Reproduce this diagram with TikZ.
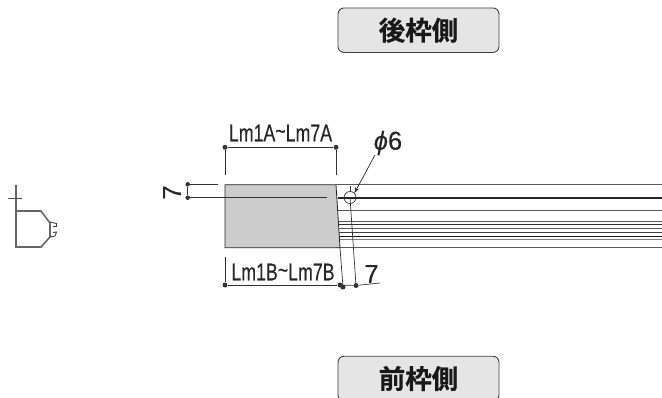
\documentclass[tikz,border=0pt]{standalone}
\usepackage{fontspec}
\setmainfont{Liberation Sans}
\newfontfamily\cjk{Noto Sans CJK JP}[BoldFont={Noto Sans CJK JP Bold},BoldFeatures={FakeBold=0.6}]
\newfontfamily\dimfont{Liberation Sans}[FakeStretch=0.74,FakeBold=0.25]
\newfontfamily\numfont{Liberation Sans}[FakeStretch=0.98,FakeBold=0.25]
\usepackage{tikz}
\usetikzlibrary{arrows.meta}
\tikzset{
  sidelabel/.style={draw=black!75,line width=0.9pt,fill=black!10,rounded corners=6pt,minimum width=161pt,minimum height=44.5pt,font=\cjk\bfseries\fontsize{26.5}{26.5}\selectfont,text=black!90},
  dimtext/.style={font=\dimfont\fontsize{24}{24}\selectfont,inner sep=0pt,text=black!85},
  numtext/.style={font=\numfont\fontsize{26}{26}\selectfont,inner sep=0pt,text=black!85},
  dimline/.style={line width=0.7pt,black!80},
  rail/.style={line width=1pt,black!65},
  dimdot/.style={circle,fill=black!80,inner sep=0pt,minimum size=5pt}
}
\begin{document}
\begin{tikzpicture}[x=1pt,y=-1pt]
  \useasboundingbox (0,0) rectangle (662,397);
  % labels
  \node[sidelabel] (rearlabel) at (418.5,30.2) {後枠側};
  \begin{scope}
    \clip (300,340) rectangle (540,397);
    \node[sidelabel] (frontlabel) at (418.5,378.5) {\raisebox{-1pt}{前枠側}};
  \end{scope}

  % profile
  \draw[line width=1.6pt,black!60] (16,185)--(16,247)--(41,247)--(50,237)--(50,223)--(41,211)--(16,211);
  \draw[line width=0.7pt,black!70] (8,198)--(22,198);
  \draw[line width=0.9pt,black!75] (50,222)--(56.5,223.5)--(56.5,226.5)--(53,226.5) (50,237)--(55,236)--(56.5,232)--(53,232.5);

  % rails
  \draw[rail] (336,184.7)--(662,184.7);
  \draw[line width=2.3pt,black!85] (338,198)--(662,198);
  \draw[rail] (336,210.7)--(662,210.7);
  \draw[rail] (336,221)--(662,221);
  \draw[line width=0.8pt,black!80] (336,224)--(662,224);
  \draw[rail] (336,228)--(662,228);
  \draw[line width=0.8pt,black!75] (336,232)--(662,232);
  \draw[line width=1pt,black!90] (336,236.7)--(662,236.7);
  \draw[line width=0.6pt,black!50] (336,239)--(662,239);
  \draw[rail] (336,247.7)--(662,247.7);

  % grey part
  \draw[line width=0.8pt,black!85,fill=black!20] (225,184.7)--(336,184.7)--(340,247.7)--(225,247.7)--cycle;

  % dimension Lm1A
  \node[dimdot] (topa) at (225,147.3) {};
  \node[dimdot] (topb) at (336,147.3) {};
  \draw[dimline] (topa)--(topb);
  \draw[dimline] (topa)--(225,175);
  \draw[dimline] (topb)--(336,175);
  \node[dimtext] (toptext) at (280.5,133) {Lm1A\raisebox{2pt}{\textasciitilde}Lm7A};

  % dimension Lm1B
  \node[dimdot] (bota) at (225,285) {};
  \node[dimdot] (botb) at (340,285) {};
  \node[dimdot] (botc) at (343,287) {};
  \node[dimdot] (botd) at (356,285.5) {};
  \draw[dimline] (bota)--(botb);
  \draw[dimline] (bota)--(225,257);
  \draw[dimline] (340,248)--(botc);
  \draw[dimline] (botb)--(botd)--(380,283);
  \node[dimtext] (bottext) at (283,272) {Lm1B\raisebox{2pt}{\textasciitilde}Lm7B};
  \node[numtext] (seven) at (371.5,274) {7};

  % hole
  \node[circle,draw=black!85,line width=0.6pt,inner sep=0pt,minimum size=12pt] (hole) at (350,197.5) {};
  \draw[dimline] (350,186)--(350,192);
  \draw[dimline] (hole.center)--(botd);
  \coordinate (phifoot) at (375,155);
  \draw[line width=0.7pt,black!85,-{Stealth[length=6pt,width=4pt]}] (phifoot)--(hole.north east);
  \node[numtext] (phi) at (388,143) {\itshape ϕ\upshape 6};

  % dimension left
  \node[dimdot,minimum size=4.5pt] (lefta) at (187.7,184.3) {};
  \node[dimdot,minimum size=4.5pt] (leftb) at (187.7,197.7) {};
  \draw[dimline] (lefta)--(leftb);
  \draw[dimline] (lefta)--(218,184.3);
  \draw[dimline] (leftb)--(327,197.7);
  \node[numtext,rotate=90] (leftseven) at (172,192.5) {7};
\end{tikzpicture}
\end{document}
